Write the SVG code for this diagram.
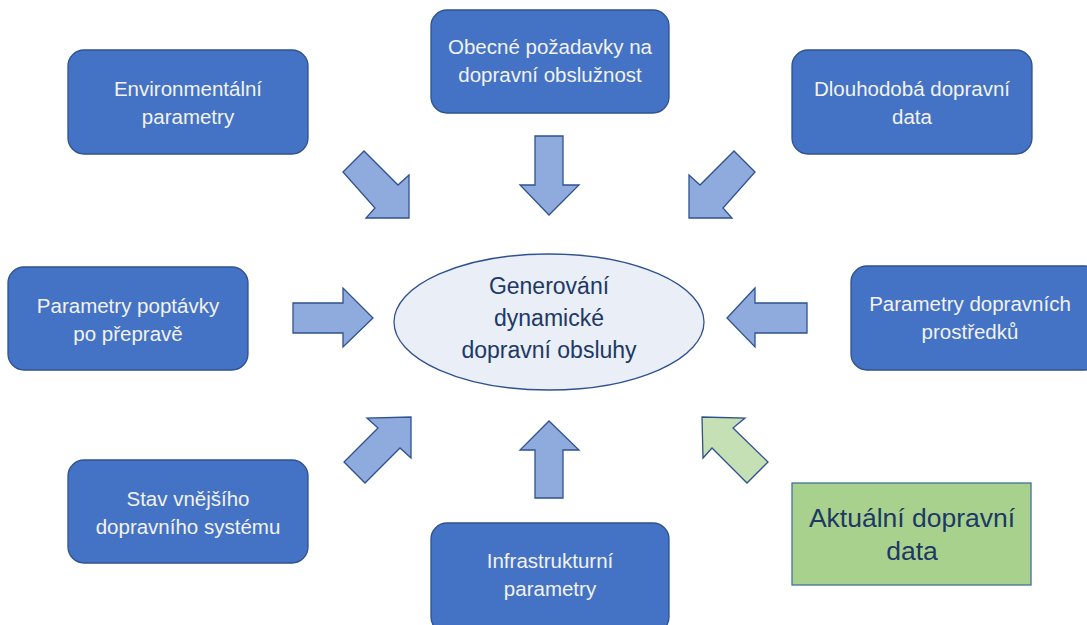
<svg xmlns="http://www.w3.org/2000/svg" width="1087" height="625" viewBox="0 0 1087 625">
  <style>
    .box { fill: #4472C4; stroke: #2F528F; stroke-width: 1.3; }
    .lbl { font-family: "Liberation Sans", Arial, sans-serif; font-size: 20.5px; fill: #F2F2F2; text-anchor: middle; }
    .arr { fill: #8FAADC; stroke: #2F528F; stroke-width: 1.3; stroke-linejoin: miter; }
    .arr-g { fill: #C5E0B4; stroke: #2F528F; stroke-width: 1.3; }
    .hub { fill: #E9EEF7; stroke: #2F528F; stroke-width: 1.3; }
    .hub-t { font-family: "Liberation Sans", Arial, sans-serif; font-size: 23px; fill: #203864; text-anchor: middle; }
    .live { fill: #A9D18E; stroke: #41719C; stroke-width: 1.3; }
    .live-t { font-family: "Liberation Sans", Arial, sans-serif; font-size: 26.5px; fill: #203864; text-anchor: middle; }
  </style>
  <rect width="1087" height="625" fill="#FFFFFF"/>

  <!-- block arrows pointing to the central ellipse -->
  <g id="connectors">
    <polygon class="arr" points="535,136 563,136 563,185 579,185 549,215 520,185 535,185"/>
    <polygon class="arr" points="535,498 563,498 563,450 579,450 549,421 520,450 535,450"/>
    <polygon class="arr" points="293,303 343,303 343,288 373,318 343,347 343,333 293,333"/>
    <polygon class="arr" points="807,303 755,303 755,288 727,318 755,347 755,333 807,333"/>
    <polygon class="arr" points="343,172 364,151 398,185 409,175 409,218 366,218 375,208"/>
    <polygon class="arr" points="755,172 734,151 700,185 689,175 689,218 732,218 723,208"/>
    <polygon class="arr" points="344,462 365,483 400,448 411,458 411,417 367,418 378,428"/>
    <polygon class="arr-g" points="768,462 747,483 712,448 703,458 702,417 745,418 733,428"/>
  </g>

  <g id="node-environment">
    <rect class="box" x="68" y="50" width="240" height="104" rx="16"/>
    <text class="lbl" x="188" y="96">Environmentální</text>
    <text class="lbl" x="188" y="124">parametry</text>
  </g>

  <g id="node-requirements">
    <rect class="box" x="431" y="10" width="238" height="103" rx="16"/>
    <text class="lbl" x="550" y="54">Obecné požadavky na</text>
    <text class="lbl" x="550" y="82">dopravní obslužnost</text>
  </g>

  <g id="node-longterm">
    <rect class="box" x="792" y="50" width="240" height="104" rx="16"/>
    <text class="lbl" x="912" y="96">Dlouhodobá dopravní</text>
    <text class="lbl" x="912" y="124">data</text>
  </g>

  <g id="node-demand">
    <rect class="box" x="8" y="267" width="240" height="103" rx="16"/>
    <text class="lbl" x="128" y="313">Parametry poptávky</text>
    <text class="lbl" x="128" y="341">po přepravě</text>
  </g>

  <g id="node-vehicles">
    <rect class="box" x="851" y="266" width="250" height="104" rx="16"/>
    <text class="lbl" x="970" y="311">Parametry dopravních</text>
    <text class="lbl" x="970" y="339">prostředků</text>
  </g>

  <g id="node-external">
    <rect class="box" x="68" y="460" width="240" height="103" rx="16"/>
    <text class="lbl" x="188" y="506">Stav vnějšího</text>
    <text class="lbl" x="188" y="534">dopravního systému</text>
  </g>

  <g id="node-infrastructure">
    <rect class="box" x="431" y="523" width="238" height="110" rx="16"/>
    <text class="lbl" x="550" y="568">Infrastrukturní</text>
    <text class="lbl" x="550" y="596">parametry</text>
  </g>

  <g id="node-live-data">
    <rect class="live" x="792" y="483" width="239" height="102"/>
    <text class="live-t" x="912" y="527">Aktuální dopravní</text>
    <text class="live-t" x="912" y="560">data</text>
  </g>

  <g id="node-generation">
    <ellipse class="hub" cx="549" cy="322" rx="155" ry="68"/>
    <text class="hub-t" x="549" y="294">Generování</text>
    <text class="hub-t" x="549" y="326">dynamické</text>
    <text class="hub-t" x="549" y="358">dopravní obsluhy</text>
  </g>
</svg>
